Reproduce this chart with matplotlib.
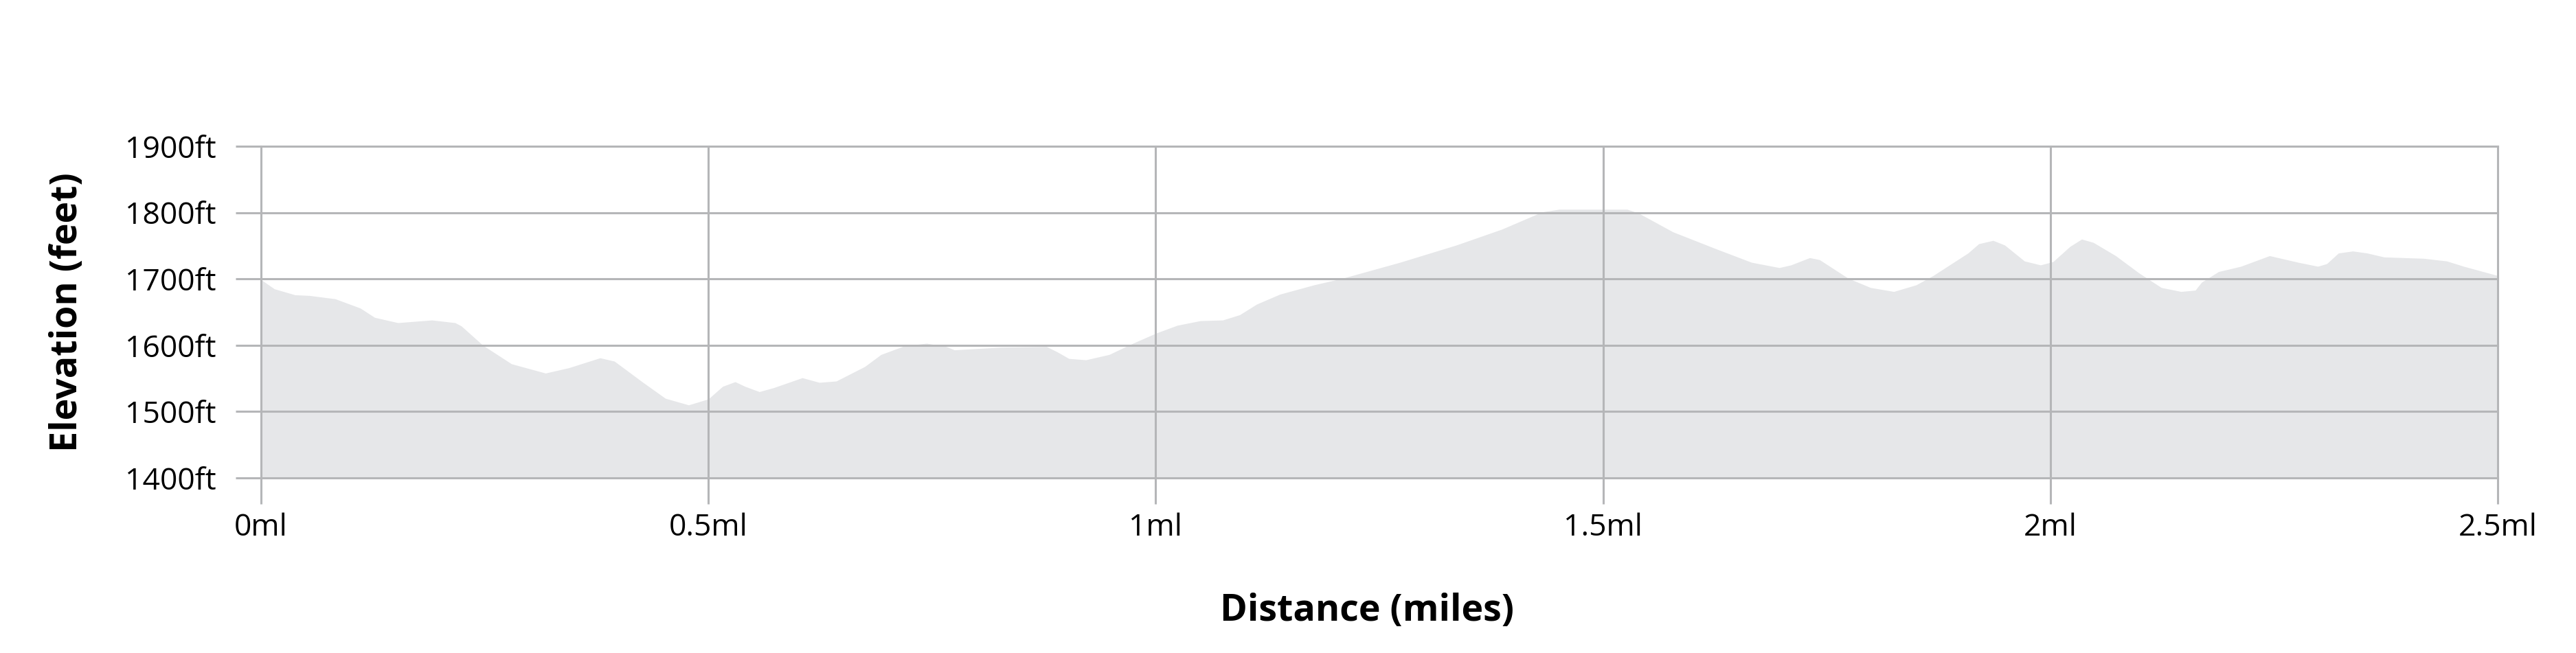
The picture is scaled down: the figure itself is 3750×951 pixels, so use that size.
import matplotlib
matplotlib.use("Agg")
import matplotlib.pyplot as plt

distance_mi = [0.000, 0.015, 0.038, 0.054, 0.083, 0.111, 0.127, 0.153, 0.191, 0.217,
               0.224, 0.248, 0.280, 0.318, 0.344, 0.379, 0.395, 0.427, 0.452, 0.478,
               0.500, 0.516, 0.530, 0.541, 0.557, 0.573, 0.605, 0.624, 0.643, 0.675,
               0.693, 0.719, 0.744, 0.766, 0.775, 0.827, 0.878, 0.890, 0.903, 0.922,
               0.948, 0.973, 1.000, 1.024, 1.050, 1.075, 1.094, 1.113, 1.139, 1.177,
               1.209, 1.273, 1.336, 1.387, 1.432, 1.451, 1.527, 1.540, 1.559, 1.578,
               1.627, 1.666, 1.697, 1.710, 1.731, 1.742, 1.774, 1.799, 1.825, 1.850,
               1.869, 1.908, 1.920, 1.936, 1.949, 1.971, 1.989, 2.003, 2.022, 2.035,
               2.048, 2.073, 2.099, 2.124, 2.146, 2.162, 2.169, 2.188, 2.213, 2.245,
               2.277, 2.299, 2.309, 2.322, 2.338, 2.354, 2.373, 2.417, 2.443, 2.462,
               2.500]
elevation_ft = [1699, 1685, 1676, 1675, 1670, 1656, 1642, 1634, 1638, 1634,
                1629, 1600, 1572, 1558, 1566, 1581, 1576, 1544, 1520, 1510,
                1519, 1538, 1545, 1538, 1530, 1536, 1551, 1544, 1546, 1568,
                1586, 1599, 1603, 1598, 1593, 1597, 1598, 1590, 1580, 1578,
                1586, 1602, 1618, 1630, 1637, 1638, 1646, 1662, 1677, 1691,
                1701, 1725, 1751, 1775, 1801, 1805, 1805, 1799, 1785, 1771,
                1745, 1725, 1717, 1721, 1732, 1729, 1701, 1687, 1681, 1691,
                1705, 1739, 1753, 1758, 1751, 1727, 1721, 1726, 1749, 1760,
                1755, 1735, 1709, 1687, 1681, 1683, 1695, 1711, 1719, 1735,
                1725, 1719, 1723, 1739, 1742, 1739, 1733, 1731, 1727, 1719,
                1705]

x_ticks = [0, 0.5, 1, 1.5, 2, 2.5]
x_tick_labels = ["0ml", "0.5ml", "1ml", "1.5ml", "2ml", "2.5ml"]
y_ticks = [1400, 1500, 1600, 1700, 1800, 1900]
y_tick_labels = ["1400ft", "1500ft", "1600ft", "1700ft", "1800ft", "1900ft"]

grid_color = "#b5b6b8"
fill_color = "#e6e7e9"

fig = plt.figure(figsize=(37.5, 9.51), dpi=100)
ax = fig.add_axes([0.1013, 0.2681, 0.9696 - 0.1013, 0.776 - 0.2681])

ax.fill_between(distance_mi, elevation_ft, 1400, color=fill_color, linewidth=0, zorder=1)

ax.set_xlim(0, 2.5)
ax.set_ylim(1400, 1900)
ax.set_xticks(x_ticks)
ax.set_xticklabels(x_tick_labels, fontfamily="Open Sans", fontsize=32)
ax.set_yticks(y_ticks)
ax.set_yticklabels(y_tick_labels, fontfamily="Open Sans", fontsize=32)

for s in ax.spines.values():
    s.set_visible(False)

ax.set_axisbelow(False)
ax.grid(True, color=grid_color, linewidth=2.2)
for gl in ax.get_xgridlines() + ax.get_ygridlines():
    gl.set_clip_on(False)

ax.tick_params(axis="y", length=27, width=2.2, color=grid_color, pad=20)
ax.tick_params(axis="x", length=27, width=2.2, color=grid_color, pad=9)

ax.set_xlabel("Distance (miles)", fontfamily="Open Sans", fontweight="bold", fontsize=38.7, labelpad=52)
ax.set_ylabel("Elevation (feet)", fontfamily="Open Sans", fontweight="bold", fontsize=38.7, labelpad=41)
ax.xaxis.label.set_x(0.4945)

fig.savefig("out.png", dpi=100, facecolor="white")
